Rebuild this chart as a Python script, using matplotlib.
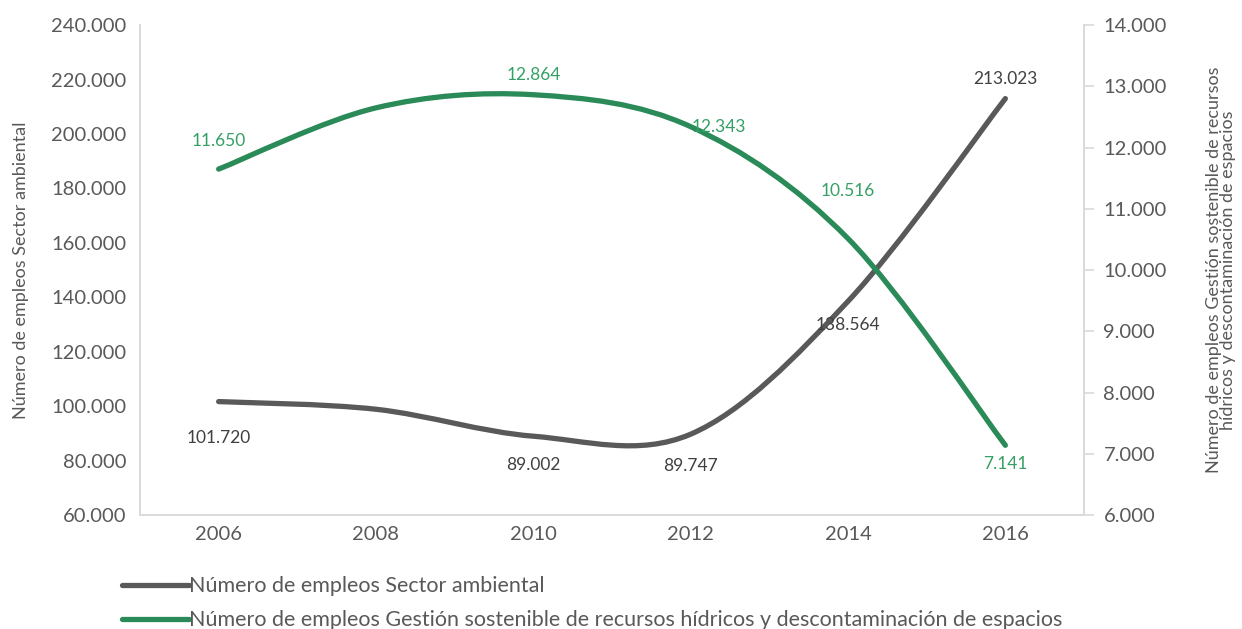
import numpy as np
import matplotlib
matplotlib.use("Agg")
import matplotlib.pyplot as plt
from matplotlib.path import Path
from matplotlib.patches import PathPatch
from matplotlib.lines import Line2D

plt.rcParams["font.family"] = ["Lato", "DejaVu Sans"]

years = [2006, 2008, 2010, 2012, 2014, 2016]
sector = [101720, 98900, 89002, 89747, 138564, 213023]
gestion = [11650, 12650, 12864, 12343, 10516, 7141]
sector_labels = ["101.720", None, "89.002", "89.747", "138.564", "213.023"]
gestion_labels = ["11.650", None, "12.864", "12.343", "10.516", "7.141"]

name_sector = "Número de empleos Sector ambiental"
name_gestion = ("Número de empleos Gestión sostenible de recursos hídricos "
                "y descontaminación de espacios")

GREY = "#595959"
GREEN = "#2A8A58"
GREEN_TXT = "#35A065"
AXIS = "#D9D9D9"
TXT = "#595959"


def smooth_path(xs, ys):
    # Excel-style smoothing: bezier with control points from neighbours
    p = np.column_stack([xs, ys]).astype(float)
    n = len(p)
    verts = [p[0]]
    codes = [Path.MOVETO]
    for i in range(n - 1):
        p0 = p[i - 1] if i > 0 else p[i]
        p1, p2 = p[i], p[i + 1]
        p3 = p[i + 2] if i + 2 < n else p[i + 1]
        c1 = p1 + (p2 - p0) / 6
        c2 = p2 - (p3 - p1) / 6
        verts += [c1, c2, p2]
        codes += [Path.CURVE4] * 3
    return Path(verts, codes)


fig = plt.figure(figsize=(12.42, 6.29), dpi=100)
ax = fig.add_axes([0.1127, 0.181, 0.7601, 0.779])
ax2 = ax.twinx()

ax.add_patch(PathPatch(smooth_path(years, sector), fill=False, edgecolor=GREY,
                       lw=3.8, capstyle="round", zorder=3))
ax2.add_patch(PathPatch(smooth_path(years, gestion), fill=False, edgecolor=GREEN,
                        lw=3.8, capstyle="round", zorder=3))

ax.set_xlim(2005, 2017)
ax.set_ylim(60000, 240000)
ax2.set_ylim(6000, 14000)
ax.set_xticks(years)
ax.set_yticks(np.arange(60000, 240001, 20000))
ax2.set_yticks(np.arange(6000, 14001, 1000))
fmt = lambda v, _: f"{v:,.0f}".replace(",", ".")
ax.yaxis.set_major_formatter(fmt)
ax2.yaxis.set_major_formatter(fmt)

for a in (ax, ax2):
    for s in a.spines.values():
        s.set_color(AXIS)
        s.set_linewidth(1.2)
    a.spines["top"].set_visible(False)
ax.tick_params(axis="y", length=0, pad=10, labelsize=14.5, labelcolor=TXT)
ax.tick_params(axis="x", length=0, pad=8, labelsize=14.5, labelcolor=TXT)
ax2.tick_params(axis="y", length=7, width=1.2, color=AXIS, pad=7,
                labelsize=14.5, labelcolor=TXT)

ax.set_ylabel(name_sector, fontsize=13, color=TXT, labelpad=16)
ax2.set_ylabel("Número de empleos Gestión sostenible de recursos\n"
               "hídricos y descontaminación de espacios",
               fontsize=13, color=TXT, labelpad=28, linespacing=0.9)

# data labels (offsets in pixels)
sector_off = [(0, -36), None, (0, -29), (0, -32), (0, -24), (0, 20)]
gestion_off = [(0, 28), None, (0, 20), (28, 0), (0, 48), (0, -19)]
for x, y, t, o in zip(years, sector, sector_labels, sector_off):
    if t:
        ax.annotate(t, (x, y), xytext=o, textcoords="offset pixels",
                    ha="center", va="center", fontsize=12.5, color="#404040")
for x, y, t, o in zip(years, gestion, gestion_labels, gestion_off):
    if t:
        ax2.annotate(t, (x, y), xytext=o, textcoords="offset pixels",
                     ha="center", va="center", fontsize=12.5, color=GREEN_TXT)

handles = [Line2D([], [], color=GREY, lw=3.8, solid_capstyle="round"),
           Line2D([], [], color=GREEN, lw=3.8, solid_capstyle="round")]
fig.legend(handles, [name_sector, name_gestion], loc="lower left",
           bbox_to_anchor=(0.083, -0.033), frameon=False, fontsize=15.5,
           labelcolor=TXT, handlelength=3.1, handletextpad=0.0,
           labelspacing=0.65)

fig.savefig("out.png", dpi=100)
